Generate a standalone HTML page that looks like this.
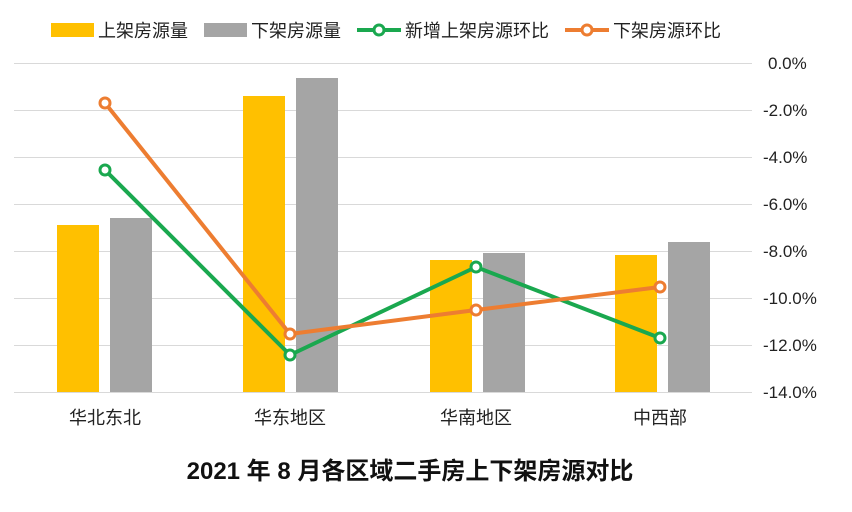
<!DOCTYPE html>
<html><head><meta charset="utf-8"><style>
body{margin:0;background:#fff;width:852px;height:507px;overflow:hidden}
svg text{font-family:"Liberation Sans","Noto Sans CJK SC",sans-serif}
</style></head><body>
<svg width="852" height="507" xmlns="http://www.w3.org/2000/svg">
<g stroke="#d9d9d9" stroke-width="1">
<line x1="14" x2="752" y1="63.5" y2="63.5"/><line x1="14" x2="752" y1="110.5" y2="110.5"/>
<line x1="14" x2="752" y1="157.5" y2="157.5"/><line x1="14" x2="752" y1="204.5" y2="204.5"/>
<line x1="14" x2="752" y1="251.5" y2="251.5"/><line x1="14" x2="752" y1="298.5" y2="298.5"/>
<line x1="14" x2="752" y1="345.5" y2="345.5"/><line x1="14" x2="752" y1="392.5" y2="392.5"/>
</g>
<g font-size="17" fill="#222">
<text x="768" y="69">0.0%</text><text x="763" y="116">-2.0%</text><text x="763" y="163">-4.0%</text>
<text x="763" y="210">-6.0%</text><text x="763" y="257">-8.0%</text><text x="763" y="304">-10.0%</text>
<text x="763" y="351">-12.0%</text><text x="763" y="398">-14.0%</text>
</g>
<g fill="#ffc000">
<rect x="57" y="225" width="42" height="167"/><rect x="243" y="96" width="42" height="296"/>
<rect x="430" y="260" width="42" height="132"/><rect x="615" y="255" width="42" height="137"/>
</g>
<g fill="#a5a5a5">
<rect x="110" y="218" width="42" height="174"/><rect x="296" y="78" width="42" height="314"/>
<rect x="483" y="253" width="42" height="139"/><rect x="668" y="242" width="42" height="150"/>
</g>
<polyline points="105,170 290,355 476,267 660,338" fill="none" stroke="#1aa84f" stroke-width="4"/>
<polyline points="105,103 290,334 476,310 660,287" fill="none" stroke="#ed7d31" stroke-width="4"/>
<g fill="#fff" stroke="#1aa84f" stroke-width="3">
<circle cx="105" cy="170" r="5"/><circle cx="290" cy="355" r="5"/><circle cx="476" cy="267" r="5"/><circle cx="660" cy="338" r="5"/>
</g>
<g fill="#fff" stroke="#ed7d31" stroke-width="3">
<circle cx="105" cy="103" r="5"/><circle cx="290" cy="334" r="5"/><circle cx="476" cy="310" r="5"/><circle cx="660" cy="287" r="5"/>
</g>
<g font-size="18" fill="#222" text-anchor="middle">
<text x="105" y="424">华北东北</text><text x="290" y="424">华东地区</text>
<text x="476" y="424">华南地区</text><text x="660" y="424">中西部</text>
</g>
<g font-size="18" fill="#222">
<rect x="51" y="23" width="43" height="14" fill="#ffc000"/><text x="98" y="37">上架房源量</text>
<rect x="204" y="23" width="43" height="14" fill="#a5a5a5"/><text x="251" y="37">下架房源量</text>
<line x1="357" x2="401" y1="30" y2="30" stroke="#1aa84f" stroke-width="4"/><circle cx="379" cy="30" r="5" fill="#fff" stroke="#1aa84f" stroke-width="3"/>
<text x="405" y="37">新增上架房源环比</text>
<line x1="565" x2="609" y1="30" y2="30" stroke="#ed7d31" stroke-width="4"/><circle cx="587" cy="30" r="5" fill="#fff" stroke="#ed7d31" stroke-width="3"/>
<text x="613" y="37">下架房源环比</text>
</g>
<text x="410" y="479" font-size="24" font-weight="bold" text-anchor="middle" fill="#111">2021 年 8 月各区域二手房上下架房源对比</text>
</svg>
</body></html>
